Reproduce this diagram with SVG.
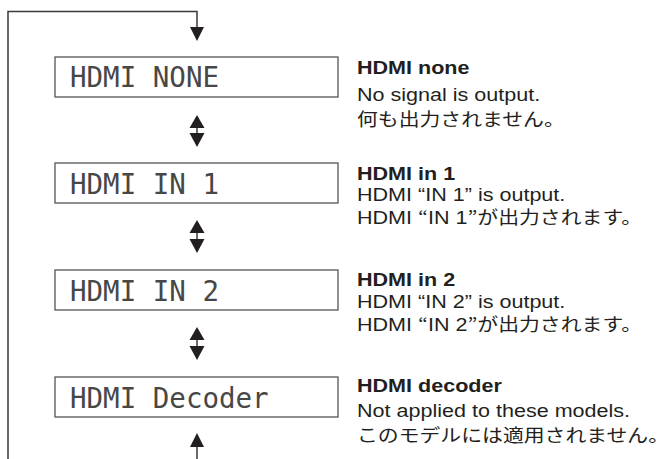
<svg xmlns="http://www.w3.org/2000/svg" width="670" height="459" viewBox="0 0 670 459">
<style>
.box{fill:#fff;stroke:#555;stroke-width:1.3}
.lcd{font-family:"DejaVu Sans Mono",monospace;font-size:27.5px;fill:#474747}
.line{fill:none;stroke:#3a3a3a;stroke-width:1.5}
.head{fill:#231f20}
.h{font-family:"Liberation Sans","Noto Sans CJK JP",sans-serif;font-size:18.5px;font-weight:bold;fill:#231f20}
.t{font-family:"Liberation Sans","Noto Sans CJK JP",sans-serif;font-size:18.5px;fill:#231f20}
.j{font-family:"Noto Sans CJK JP",sans-serif;font-size:17.9px}
</style>
<rect width="670" height="459" fill="#fff"/>
<g id="connectors">
<polyline class="line" points="8,459 8,11.5 197,11.5 197,28"/>
<polygon class="head" points="190,27 204,27 197,41"/>
<g id="arrow1">
<line class="line" x1="197" y1="126" x2="197" y2="135"/>
<polygon class="head" points="197,115 189.5,128 204.5,128"/>
<polygon class="head" points="189.5,133 204.5,133 197,147"/>
</g>
<g id="arrow2">
<line class="line" x1="197" y1="231" x2="197" y2="240"/>
<polygon class="head" points="197,220 189.5,233 204.5,233"/>
<polygon class="head" points="189.5,239 204.5,239 197,253"/>
</g>
<g id="arrow3">
<line class="line" x1="197" y1="338" x2="197" y2="347"/>
<polygon class="head" points="197,327 189.5,340 204.5,340"/>
<polygon class="head" points="189.5,346 204.5,346 197,360"/>
</g>
<line class="line" x1="197" y1="446" x2="197" y2="459"/>
<polygon class="head" points="197,433 190,447 204,447"/>
</g>
<g id="node-none">
<rect class="box" x="55" y="57" width="283" height="40"/>
<text class="lcd" x="70" y="87">HDMI NONE</text>
</g>
<g id="node-in1">
<rect class="box" x="55" y="163" width="283" height="40"/>
<text class="lcd" x="70" y="193.5">HDMI IN 1</text>
</g>
<g id="node-in2">
<rect class="box" x="55" y="270" width="283" height="40"/>
<text class="lcd" x="70" y="300.5">HDMI IN 2</text>
</g>
<g id="node-decoder">
<rect class="box" x="55" y="377" width="283" height="40"/>
<text class="lcd" x="70" y="407.5">HDMI Decoder</text>
</g>
<g id="descriptions" transform="matrix(1.165,0,0,1,357,0)">
<text class="h" x="0" y="74">HDMI none</text>
<text class="t" x="0" y="101">No signal is output.</text>
<text class="t" x="0" y="126"><tspan class="j">何も出力されません。</tspan></text>
<text class="h" x="0" y="180">HDMI in 1</text>
<text class="t" x="0" y="201">HDMI “IN 1” is output.</text>
<text class="t" x="0" y="224">HDMI <tspan class="j">“</tspan>IN 1<tspan class="j">”が出力されます。</tspan></text>
<text class="h" x="0" y="286">HDMI in 2</text>
<text class="t" x="0" y="308">HDMI “IN 2” is output.</text>
<text class="t" x="0" y="331">HDMI <tspan class="j">“</tspan>IN 2<tspan class="j">”が出力されます。</tspan></text>
<text class="h" x="0" y="392">HDMI decoder</text>
<text class="t" x="0" y="417">Not applied to these models.</text>
<text class="t" x="0" y="442"><tspan class="j">このモデルには適用されません。</tspan></text>
</g>
</svg>
